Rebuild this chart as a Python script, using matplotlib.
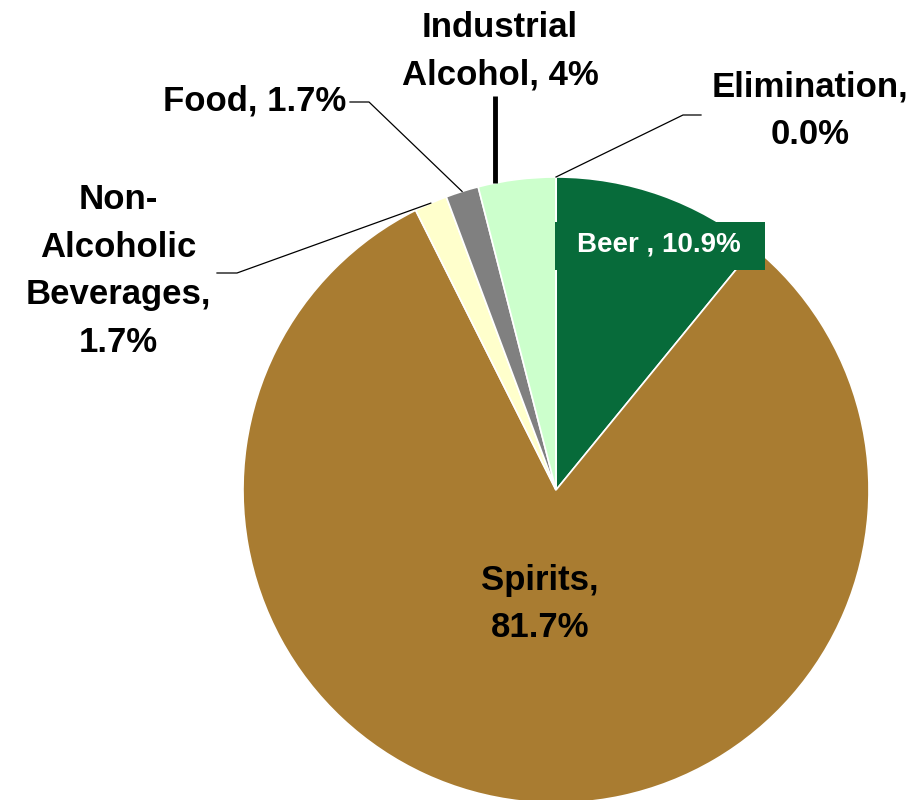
import numpy as np
import matplotlib.pyplot as plt
from matplotlib.patches import Rectangle

# datos del grafico
categorias = ['Beer', 'Spirits', 'Non-\nAlcoholic\nBeverages,', 'Food,', 'Industrial\nAlcohol,', 'Elimination,']
valores = [10.9, 81.7, 1.7, 1.7, 4.0, 0.0]
etiquetas_pct = ['10.9%', '81.7%', '1.7%', '1.7%', '4%', '0.0%']
colores = ['#076b3a', '#a97c31', '#ffffcc', '#808080', '#ccffcc', '#ffffff']

plt.rcParams['font.family'] = ['Liberation Sans', 'DejaVu Sans']

W, H = 915, 800
fig = plt.figure(figsize=(W / 100, H / 100), dpi=100)
ax = fig.add_axes([0, 0, 1, 1])

cx, cy, R = 556, 800 - 490, 313
ax.pie(valores, colors=colores, startangle=90, counterclock=False,
       center=(cx, cy), radius=R,
       wedgeprops=dict(edgecolor='white', linewidth=1.2))
ax.set_xlim(0, W)
ax.set_ylim(0, H)
ax.set_aspect('equal')
ax.axis('off')

# angulos de cada sector (sentido horario desde las 12)
fin = 90 - np.cumsum(valores) / sum(valores) * 360
ini = np.concatenate([[90], fin[:-1]])


def punto(ang, r=R):
    a = np.deg2rad(ang)
    return cx + r * np.cos(a), cy + r * np.sin(a)


def img(y):
    return H - y


fs = 25
kw = dict(fontsize=fs, fontweight='bold', color='black', linespacing=1.57)

# Beer con caja
ax.add_patch(Rectangle((555, img(270)), 210, 48, facecolor=colores[0], edgecolor='none', zorder=3))
ax.text(659, img(245), 'Beer , ' + etiquetas_pct[0], ha='center', va='center',
        fontsize=20, fontweight='bold', color='white', zorder=4)

# Spirits
ax.text(540, img(604), 'Spirits,\n' + etiquetas_pct[1], ha='center', va='center', **kw)

# Non-Alcoholic
ax.text(118, img(271), categorias[2] + '\n' + etiquetas_pct[2], ha='center', va='center', **kw)
m = (ini[2] + fin[2]) / 2
x0, y0 = punto(m)
ax.plot([x0, 237, 217], [y0, img(273), img(273)], color='black', lw=0.9)

# Food
ax.text(346, img(101), categorias[3] + ' ' + etiquetas_pct[3], ha='right', va='center', **kw)
m = (ini[3] + fin[3]) / 2
x0, y0 = punto(m)
ax.plot([x0, 369, 350], [y0, img(102), img(102)], color='black', lw=0.9)

# Industrial Alcohol
ax.text(500, img(51), categorias[4] + ' ' + etiquetas_pct[4], ha='center', va='center', **kw)
a = ini[4] + 0.22 * (fin[4] - ini[4])
x0, y0 = punto(a)
ax.plot([x0, x0], [y0, img(96)], color='black', lw=3.5, solid_capstyle='butt')

# Elimination
ax.text(810, img(111), categorias[5] + '\n' + etiquetas_pct[5], ha='center', va='center', **kw)
x0, y0 = punto(ini[5])
ax.plot([x0, 683, 701], [y0, img(115), img(115)], color='black', lw=0.9)

fig.savefig('out.png', dpi=100)
